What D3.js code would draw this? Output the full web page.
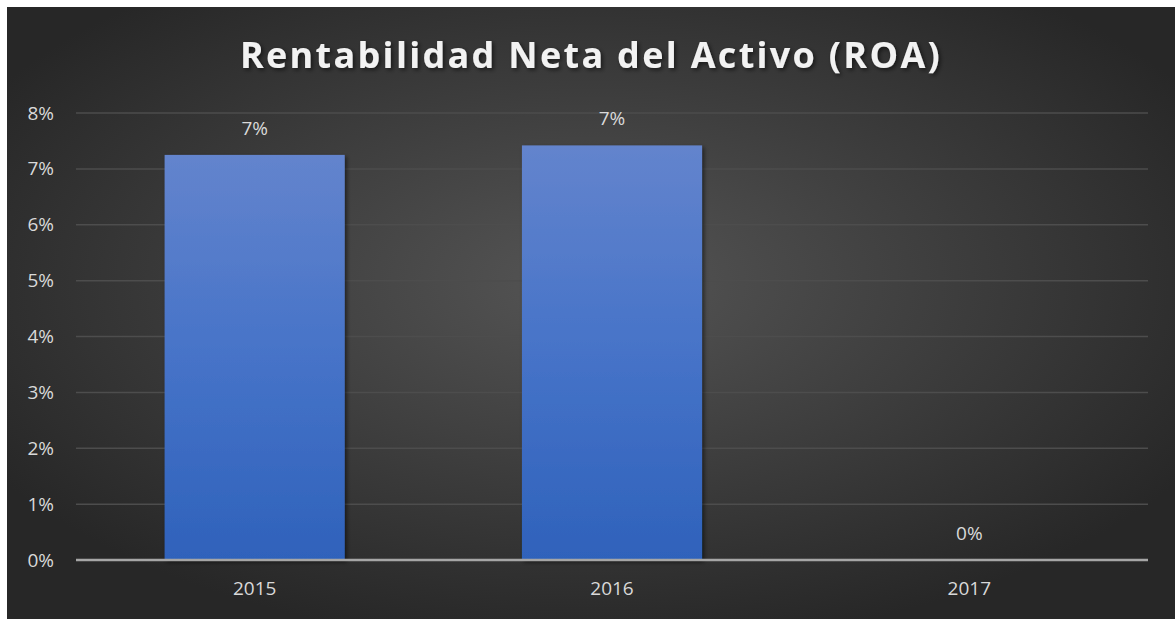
<!DOCTYPE html>
<html>
<head>
<meta charset="utf-8">
<script src="https://cdn.jsdelivr.net/npm/d3@7"></script>
<title>Rentabilidad Neta del Activo (ROA)</title>
<style>
body { margin: 0; background: #fff; }
</style>
</head>
<body>
<div id="viz"></div>
<script>

var categories = ["2015", "2016", "2017"];
var roaValues = [0.0725, 0.0742, 0];
var dataLabels = ["7%", "7%", "0%"];
var yTicks = [0, 0.01, 0.02, 0.03, 0.04, 0.05, 0.06, 0.07, 0.08];

var W = 1175, H = 619;
var plot = {left: 76, right: 1148, top: 113, bottom: 560};

var svg = d3.select("#viz").append("svg")
    .attr("width", W)
    .attr("height", H);

var defs = svg.append("defs");

var bg = defs.append("radialGradient")
    .attr("id", "bgGrad")
    .attr("cx", "50%").attr("cy", "45%").attr("r", "60%");
bg.append("stop").attr("offset", "0%").attr("stop-color", "#555555");
bg.append("stop").attr("offset", "100%").attr("stop-color", "#272727");

var barGrad = defs.append("linearGradient")
    .attr("id", "barGrad")
    .attr("x1", 0).attr("y1", 0).attr("x2", 0).attr("y2", 1);
barGrad.append("stop").attr("offset", "0%").attr("stop-color", "#6384cd");
barGrad.append("stop").attr("offset", "50%").attr("stop-color", "#4673c8");
barGrad.append("stop").attr("offset", "100%").attr("stop-color", "#2f62bb");

var shadow = defs.append("filter").attr("id", "shadow")
    .attr("x", "-10%").attr("y", "-10%").attr("width", "130%").attr("height", "130%");
shadow.append("feDropShadow")
    .attr("dx", 2).attr("dy", 2).attr("stdDeviation", 2)
    .attr("flood-color", "#000").attr("flood-opacity", 0.55);

svg.append("rect")
    .attr("x", 7).attr("y", 7)
    .attr("width", W - 7).attr("height", H - 7)
    .attr("fill", "url(#bgGrad)");

var x = d3.scaleBand()
    .domain(categories)
    .range([plot.left, plot.right])
    .paddingInner(0.496)
    .paddingOuter(0.248);

var y = d3.scaleLinear()
    .domain([0, 0.08])
    .range([plot.bottom, plot.top]);

// gridlines
svg.append("g")
    .selectAll("line")
    .data(yTicks.slice(1))
    .enter().append("line")
    .attr("x1", plot.left).attr("x2", plot.right)
    .attr("y1", function(d){ return y(d); })
    .attr("y2", function(d){ return y(d); })
    .attr("stroke", "#4d4d4d")
    .attr("stroke-width", 1.5);

// y axis labels
var yAxis = d3.axisLeft(y)
    .tickValues(yTicks)
    .tickFormat(d3.format(".0%"))
    .tickSize(0)
    .tickPadding(22);
var yg = svg.append("g")
    .attr("transform", "translate(" + plot.left + ",0)")
    .call(yAxis);
yg.select(".domain").remove();
yg.selectAll("text")
    .attr("fill", "#d9d9d9")
    .attr("font-family", "'Open Sans', sans-serif")
    .attr("font-size", 19);

// bars
svg.append("g")
    .selectAll("rect.bar")
    .data(roaValues)
    .enter().append("rect")
    .attr("class", "bar")
    .attr("x", function(d, i){ return x(categories[i]); })
    .attr("width", x.bandwidth())
    .attr("y", function(d){ return y(d); })
    .attr("height", function(d){ return y(0) - y(d); })
    .attr("fill", "url(#barGrad)")
    .attr("filter", "url(#shadow)");

// baseline
svg.append("line")
    .attr("x1", plot.left).attr("x2", plot.right)
    .attr("y1", y(0)).attr("y2", y(0))
    .attr("stroke", "#a6a6a6")
    .attr("stroke-width", 2.5);

// x axis labels
var xAxis = d3.axisBottom(x).tickSize(0).tickPadding(22);
var xg = svg.append("g")
    .attr("transform", "translate(0," + plot.bottom + ")")
    .call(xAxis);
xg.select(".domain").remove();
xg.selectAll("text")
    .attr("fill", "#d9d9d9")
    .attr("font-family", "'Open Sans', sans-serif")
    .attr("font-size", 19);

// data labels
svg.append("g")
    .selectAll("text")
    .data(roaValues)
    .enter().append("text")
    .attr("x", function(d, i){ return x(categories[i]) + x.bandwidth() / 2; })
    .attr("y", function(d){ return y(d) - 20; })
    .attr("text-anchor", "middle")
    .attr("fill", "#d9d9d9")
    .attr("font-family", "'Open Sans', sans-serif")
    .attr("font-size", 19)
    .text(function(d, i){ return dataLabels[i]; });

// title
svg.append("text")
    .attr("x", 7 + (W - 7) / 2)
    .attr("y", 68)
    .attr("text-anchor", "middle")
    .attr("fill", "#f2f2f2")
    .attr("font-family", "'Open Sans', sans-serif")
    .attr("font-weight", "bold")
    .attr("font-size", 36)
    .attr("letter-spacing", 2.3)
    .attr("filter", "url(#shadow)")
    .text("Rentabilidad Neta del Activo (ROA)");

</script>
</body>
</html>
